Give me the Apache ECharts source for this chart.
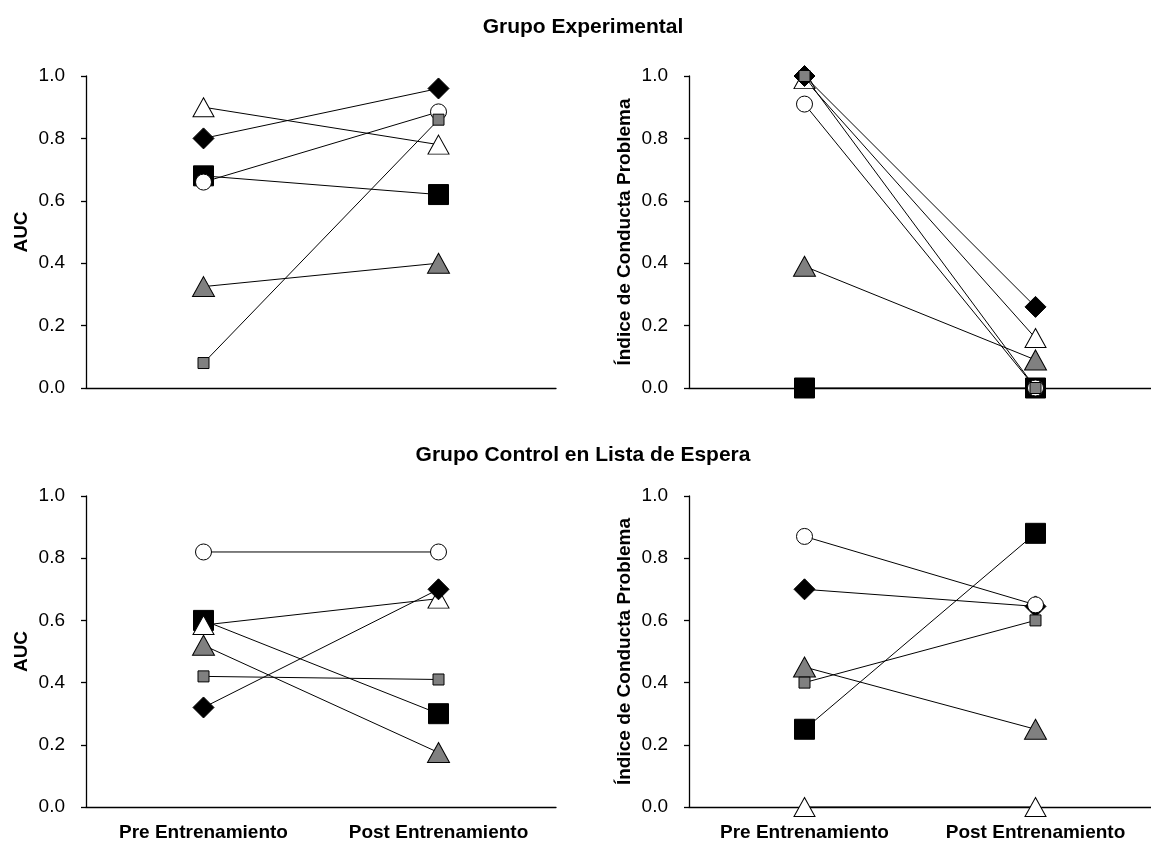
<!DOCTYPE html>
<html>
<head>
<meta charset="utf-8">
<script src="https://cdn.jsdelivr.net/npm/echarts@6/dist/echarts.min.js"></script>
<style>
html,body{margin:0;padding:0;background:#fff;}
#chart{width:1151px;height:842px;}
</style>
</head>
<body>
<div id="chart"></div>
<script>
// ---- Data ----
const categories = ['Pre Entrenamiento', 'Post Entrenamiento'];
const yTicks = [0, 0.2, 0.4, 0.6, 0.8, 1.0];
const titles = ['Grupo Experimental', 'Grupo Control en Lista de Espera'];
const yNames = ['AUC', 'Índice de Conducta Problema'];

// Grupo Experimental - AUC
const expAUC_square   = [0.68, 0.62];
const expAUC_triWhite = [0.90, 0.78];
const expAUC_diamond  = [0.80, 0.96];
const expAUC_triGray  = [0.325, 0.40];
const expAUC_circle   = [0.66, 0.885];
const expAUC_smallSq  = [0.08, 0.86];

// Grupo Experimental - Índice de Conducta Problema
const expICP_square   = [0.0, 0.0];
const expICP_triWhite = [0.99, 0.16];
const expICP_diamond  = [1.0, 0.26];
const expICP_triGray  = [0.39, 0.09];
const expICP_circle   = [0.91, 0.0];
const expICP_smallSq  = [1.0, 0.0];

// Grupo Control - AUC
const ctlAUC_square   = [0.60, 0.30];
const ctlAUC_triWhite = [0.585, 0.67];
const ctlAUC_diamond  = [0.32, 0.70];
const ctlAUC_triGray  = [0.52, 0.175];
const ctlAUC_circle   = [0.82, 0.82];
const ctlAUC_smallSq  = [0.42, 0.41];

// Grupo Control - Índice de Conducta Problema
const ctlICP_square   = [0.25, 0.88];
const ctlICP_triWhite = [0.0, 0.0];
const ctlICP_diamond  = [0.70, 0.645];
const ctlICP_triGray  = [0.45, 0.25];
const ctlICP_circle   = [0.87, 0.65];
const ctlICP_smallSq  = [0.40, 0.60];

const panels = [
  [expAUC_square, expAUC_triWhite, expAUC_diamond, expAUC_triGray, expAUC_circle, expAUC_smallSq],
  [expICP_square, expICP_triWhite, expICP_diamond, expICP_triGray, expICP_circle, expICP_smallSq],
  [ctlAUC_square, ctlAUC_triWhite, ctlAUC_diamond, ctlAUC_triGray, ctlAUC_circle, ctlAUC_smallSq],
  [ctlICP_square, ctlICP_triWhite, ctlICP_diamond, ctlICP_triGray, ctlICP_circle, ctlICP_smallSq]
];

// ---- Styles ----
const FONT = '"Liberation Sans", Arial, sans-serif';
const markerStyles = [
  {symbol: 'rect', size: 20, color: '#000000'},
  {symbol: 'triangle', size: [21, 19], color: '#ffffff'},
  {symbol: 'diamond', size: [21, 21], color: '#000000'},
  {symbol: 'triangle', size: [22, 20], color: '#808080'},
  {symbol: 'circle', size: 16, color: '#ffffff'},
  {symbol: 'rect', size: 11, color: '#808080'}
];

const gridPos = [
  {left: 86, top: 76, width: 470, height: 312},
  {left: 689, top: 76, width: 468, height: 312},
  {left: 86, top: 496, width: 470, height: 312},
  {left: 689, top: 496, width: 468, height: 312}
];

const grids = gridPos.map(g => Object.assign({containLabel: false}, g));

const xAxes = gridPos.map((g, i) => ({
  type: 'category',
  gridIndex: i,
  data: categories,
  boundaryGap: true,
  axisLine: {show: true, onZero: false, lineStyle: {color: '#000', width: 1.3}},
  axisTick: {show: false},
  axisLabel: {
    show: i >= 2,
    interval: 0,
    hideOverlap: false,
    showMinLabel: true,
    showMaxLabel: true,
    color: '#000', fontFamily: FONT, fontWeight: 'bold', fontSize: 19, margin: 16
  },
  splitLine: {show: false}
}));

const yAxes = gridPos.map((g, i) => ({
  type: 'value',
  gridIndex: i,
  min: yTicks[0],
  max: yTicks[yTicks.length - 1],
  interval: 0.2,
  name: yNames[i % 2],
  nameLocation: 'middle',
  nameGap: 55,
  nameRotate: 90,
  nameTextStyle: {color: '#000', fontFamily: FONT, fontWeight: 'bold', fontSize: 19},
  axisLine: {show: true, lineStyle: {color: '#000', width: 1.3}},
  axisTick: {show: true, inside: false, length: 5, lineStyle: {color: '#000', width: 1.3}},
  axisLabel: {
    color: '#000', fontFamily: FONT, fontSize: 19, margin: 21,
    formatter: v => v.toFixed(1)
  },
  splitLine: {show: false}
}));

const series = [];
panels.forEach((panel, pi) => {
  panel.forEach((vals, si) => {
    const m = markerStyles[si];
    series.push({
      type: 'line',
      xAxisIndex: pi,
      yAxisIndex: pi,
      data: vals,
      symbol: m.symbol,
      symbolSize: m.size,
      showSymbol: true,
      clip: false,
      silent: true,
      animation: false,
      z: 2 + si,
      itemStyle: {color: m.color, borderColor: '#000', borderWidth: 1, opacity: 1},
      lineStyle: {color: '#000', width: 1}
    });
  });
});

const option = {
  backgroundColor: '#ffffff',
  animation: false,
  title: [
    {text: titles[0], left: 578, top: 12, textAlign: 'center',
     textStyle: {fontFamily: FONT, fontWeight: 'bold', fontSize: 21, color: '#000'}},
    {text: titles[1], left: 578, top: 440, textAlign: 'center',
     textStyle: {fontFamily: FONT, fontWeight: 'bold', fontSize: 21, color: '#000'}}
  ],
  grid: grids,
  xAxis: xAxes,
  yAxis: yAxes,
  series: series
};

const chart = echarts.init(document.getElementById('chart'), null, {renderer: 'canvas'});
chart.setOption(option);
</script>
</body>
</html>
